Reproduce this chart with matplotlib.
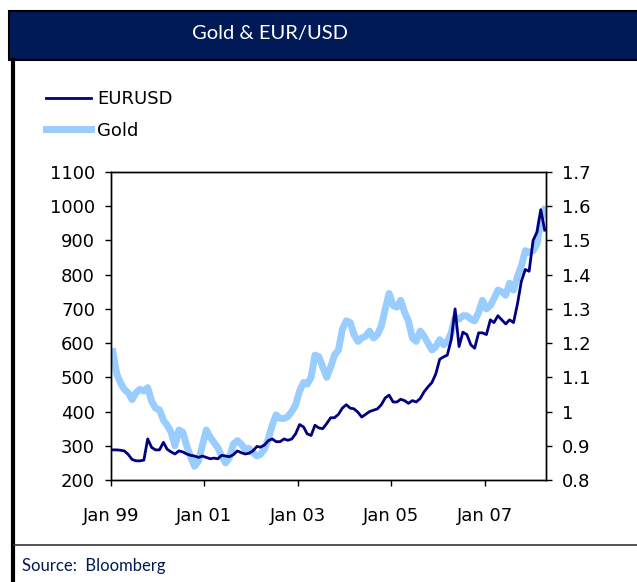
import pandas as pd
import matplotlib
matplotlib.use("Agg")
from matplotlib import pyplot as plt
from matplotlib.patches import Rectangle
from matplotlib.lines import Line2D
import matplotlib.dates as mdates

# monthly readings, Jan 1999 .. Apr 2008
months = pd.date_range("1999-01-01", "2008-04-01", freq="MS") + pd.Timedelta(days=14)

# dark line, left axis (legend says EURUSD)
eurusd_line = [
    288, 288, 287, 285, 275, 260, 256, 256, 258, 320, 295, 288,   # 1999
    288, 310, 290, 282, 276, 285, 282, 276, 272, 270, 266, 270,   # 2000
    266, 262, 264, 262, 272, 270, 268, 274, 285, 280, 276, 278,   # 2001
    285, 298, 296, 302, 315, 320, 312, 312, 320, 316, 320, 335,   # 2002
    362, 355, 335, 330, 360, 352, 350, 365, 382, 382, 392, 410,   # 2003
    420, 410, 408, 398, 384, 392, 400, 404, 408, 420, 440, 448,   # 2004
    428, 428, 436, 432, 424, 432, 428, 438, 458, 472, 485, 510,   # 2005
    553, 560, 565, 610, 700, 590, 632, 625, 595, 585, 630, 630,   # 2006
    625, 668, 660, 680, 668, 656, 668, 660, 715, 780, 815, 810,   # 2007
    900, 925, 990, 930,                                           # 2008
]

# light line, right axis (legend says Gold)
gold_line = [
    1.175, 1.11, 1.085, 1.065, 1.055, 1.035, 1.055, 1.065, 1.06, 1.07, 1.03, 1.01,
    1.005, 0.975, 0.96, 0.94, 0.90, 0.946, 0.94, 0.90, 0.868, 0.84, 0.855, 0.90,
    0.946, 0.925, 0.91, 0.895, 0.87, 0.85, 0.865, 0.905, 0.915, 0.905, 0.89, 0.892,
    0.88, 0.87, 0.875, 0.89, 0.92, 0.96, 0.99, 0.98, 0.98, 0.985, 1.00, 1.02,
    1.06, 1.085, 1.08, 1.10, 1.165, 1.16, 1.13, 1.10, 1.13, 1.165, 1.18, 1.24,
    1.265, 1.26, 1.225, 1.205, 1.215, 1.22, 1.235, 1.215, 1.225, 1.25, 1.30, 1.345,
    1.31, 1.305, 1.325, 1.29, 1.265, 1.215, 1.205, 1.235, 1.22, 1.20, 1.18, 1.19,
    1.21, 1.195, 1.205, 1.23, 1.275, 1.27, 1.28, 1.28, 1.27, 1.265, 1.29, 1.325,
    1.30, 1.31, 1.33, 1.355, 1.35, 1.34, 1.375, 1.355, 1.395, 1.425, 1.47, 1.465,
    1.47, 1.49, 1.56, 1.59,
]

tick_years = [1999, 2001, 2003, 2005, 2007]
navy = "#001a57"
dark = "#000080"
light = "#99ccff"
narrow = ["Lato", "DejaVu Sans"]

fig = plt.figure(figsize=(6.37, 5.82), dpi=100)
W, H = 637.0, 582.0

# frame and title bar
fig.add_artist(Rectangle((9 / W, 1 - 59.5 / H), 1, 48.5 / H, transform=fig.transFigure,
                         facecolor=navy, edgecolor="black", linewidth=1.5))
fig.add_artist(Line2D([12.5 / W, 12.5 / W], [0, 1 - 60 / H], transform=fig.transFigure,
                      color="black", linewidth=3))
fig.add_artist(Line2D([14 / W, 1], [1 - 545 / H, 1 - 545 / H], transform=fig.transFigure,
                      color="#333333", linewidth=1.2))
fig.text(270 / W, 1 - 34 / H, "Gold & EUR/USD", color="white", fontsize=14.5,
         family=narrow, ha="center", va="center")
fig.text(22 / W, 1 - 566 / H, "Source:  Bloomberg", color=navy, fontsize=12,
         family=narrow, ha="left", va="center")

ax = fig.add_axes([111 / W, 1 - 480 / H, 435 / W, 308 / H])
ax2 = ax.twinx()
ax.set_zorder(ax2.get_zorder() + 1)
ax.patch.set_visible(False)

ax2.plot(months, gold_line, color=light, linewidth=5, solid_joinstyle="round")
ax.plot(months, eurusd_line, color=dark, linewidth=2.0)

ax.set_ylim(200, 1100)
ax.set_yticks(range(200, 1101, 100))
ax2.set_ylim(0.8, 1.7)
ax2.set_yticks([0.8, 0.9, 1.0, 1.1, 1.2, 1.3, 1.4, 1.5, 1.6, 1.7])
ax2.set_yticklabels(["0.8", "0.9", "1", "1.1", "1.2", "1.3", "1.4", "1.5", "1.6", "1.7"])

ax.set_xlim(pd.Timestamp("1999-01-01"), pd.Timestamp("2008-04-25"))
ax.set_xticks([pd.Timestamp(f"{y}-01-01") for y in tick_years])
ax.xaxis.set_major_formatter(mdates.DateFormatter("%b %y"))

for a in (ax, ax2):
    for s in a.spines.values():
        s.set_linewidth(1.0)
    a.tick_params(labelsize=13, length=4.5, width=1.0, colors="black")
ax.tick_params(axis="x", pad=15)
ax.tick_params(axis="y", pad=7)
ax2.tick_params(axis="y", pad=7)

handles = [Line2D([], [], color=dark, linewidth=2.0),
           Line2D([], [], color=light, linewidth=5)]
fig.legend(handles, ["EURUSD", "Gold"], loc="upper left",
           bbox_to_anchor=(30 / W, 1 - 74 / H), frameon=False, fontsize=13,
           handlelength=2.5, handletextpad=0.3, labelspacing=0.75)

fig.savefig("out.png", dpi=100)
